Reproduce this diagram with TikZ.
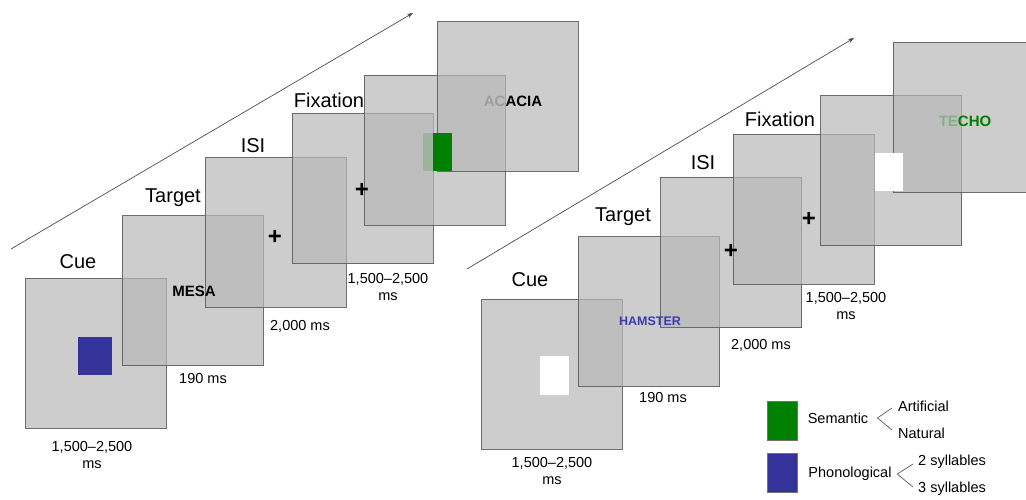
\documentclass[tikz,border=0pt]{standalone}
\usepackage{fontspec}
\setmainfont{Liberation Sans}
\usetikzlibrary{arrows.meta}
\definecolor{cblue}{RGB}{51,51,153}
\definecolor{cgreen}{RGB}{0,128,0}
\definecolor{edge}{RGB}{95,95,95}
\definecolor{wordblue}{RGB}{60,60,170}
\definecolor{scr}{RGB}{184,184,184}
\definecolor{fadegreen}{RGB}{135,175,135}
\begin{document}
\begin{tikzpicture}[x=1pt,y=-1pt,
  screen/.style={rectangle, draw=edge, line width=0.8pt, fill=scr, fill opacity=0.7,
    draw opacity=0.9, minimum width=141pt, minimum height=150pt, inner sep=0pt, outer sep=0pt},
  phase/.style={font=\fontsize{20}{24}\selectfont, inner sep=0pt},
  timing/.style={font=\fontsize{14.5}{17.6}\selectfont, align=center, inner sep=0pt},
  word/.style={font=\fontsize{15}{18}\selectfont\bfseries, inner sep=0pt},
  plus/.style={font=\fontsize{24}{24}\selectfont\bfseries, inner sep=0pt},
  patch/.style={rectangle, inner sep=0pt, outer sep=0pt},
  legtext/.style={font=\fontsize{14.5}{17}\selectfont, inner sep=0pt},
  legbox/.style={rectangle, draw=black!55, line width=0.5pt, minimum width=30pt, minimum height=39pt, inner sep=0pt},
  timeline/.style={draw=black!70, line width=0.7pt, -{Stealth[length=6pt,width=4.5pt]}},
  brace/.style={draw=black!65, line width=0.7pt}]
\useasboundingbox (0,0) rectangle (1026,500);
\clip (0,0) rectangle (1026,500);

% ---------- left sequence ----------
\coordinate (la0) at (11,249);
\coordinate (la1) at (413,13);
\draw[timeline] (la0) -- (la1);

\node[screen] (L1) at (95.5,353) {};
\node[screen] (L2) at (192.5,290.5) {};
\node[screen] (L3) at (275.5,232) {};
\node[screen] (L4) at (362.5,188.5) {};
\node[screen] (L5) at (434.5,150) {};
\node[screen] (L6) at (507.5,96.5) {};

\node[patch, fill=cblue, minimum width=34pt, minimum height=38pt] (lcue) at (95,356) {};
\node[word] (lmesa) at (194,291) {MESA};
\node[plus] (lp1) at (275,237) {+};
\node[plus] (lp2) at (362,190) {+};
\node[patch, fill=cgreen, fill opacity=0.18, minimum width=10pt, minimum height=38pt] (lgfaint) at (428,152) {};
\node[patch, fill=cgreen, minimum width=19pt, minimum height=38pt] (lgreen) at (442.5,152) {};
\node[word] (lacacia) at (513,101) {{\color{black!38}AC}ACIA};

\node[phase] (lcuel) at (78,262) {Cue};
\node[phase] (ltarl) at (173,198) {Target};
\node[phase] (lisil) at (253,146) {ISI};
\node[phase] (lfixl) at (329,100) {Fixation};

\node[timing] (lt1) at (92,455) {1,500--2,500\\ms};
\node[timing] (lt2) at (203,379) {190 ms};
\node[timing] (lt3) at (300,326) {2,000 ms};
\node[timing] (lt4) at (388,287) {1,500--2,500\\ms};

% ---------- right sequence ----------
\coordinate (ra0) at (467,269);
\coordinate (ra1) at (854,38);
\draw[timeline] (ra0) -- (ra1);

\node[screen] (R1) at (551.5,374) {};
\node[screen] (R2) at (648.5,311.5) {};
\node[screen] (R3) at (731,252.5) {};
\node[screen] (R4) at (803.5,209) {};
\node[screen] (R5) at (891,170.5) {};
\node[screen] (R6) at (963.5,117.5) {};

\node[patch, fill=white, minimum width=29pt, minimum height=39pt] (rcue) at (554.5,375.5) {};
\node[word, font=\fontsize{12.5}{15}\selectfont\bfseries, text=wordblue] (rham) at (650,321) {HAMSTER};
\node[plus] (rp1) at (731,251) {+};
\node[plus] (rp2) at (809,219) {+};
\node[patch, fill=white, minimum width=28pt, minimum height=38pt] (rwhite) at (889,172) {};
\node[word, text=cgreen] (rtecho) at (965,121) {{\color{fadegreen}TE}CHO};

\node[phase] (rcuel) at (530,280) {Cue};
\node[phase] (rtarl) at (623,217) {Target};
\node[phase] (risil) at (703,163) {ISI};
\node[phase] (rfixl) at (780,119) {Fixation};

\node[timing] (rt1) at (552,471) {1,500--2,500\\ms};
\node[timing] (rt2) at (663,398) {190 ms};
\node[timing] (rt3) at (761,345) {2,000 ms};
\node[timing] (rt4) at (846,306) {1,500--2,500\\ms};

% ---------- legend ----------
\node[legbox, fill=cgreen] (gsq) at (782,420.5) {};
\node[legbox, fill=cblue] (bsq) at (782,472.5) {};
\node[legtext] (sem) at (838,418) {Semantic};
\node[legtext, anchor=west] (art) at (898,406) {Artificial};
\node[legtext, anchor=west] (nat) at (898,433) {Natural};
\node[legtext] (pho) at (850,474) {Phonological};
\node[legtext, anchor=west] (syl2) at (918,462) {2 syllables};
\node[legtext, anchor=west] (syl3) at (918,489) {3 syllables};
\coordinate (semv) at ([xshift=9pt]sem.east);
\coordinate (phov) at ([xshift=5.5pt]pho.east);
\draw[brace] ([xshift=-6pt,yshift=-2pt]art.west) -- (semv) -- ([xshift=-6pt,yshift=3pt]nat.west);
\draw[brace] ([xshift=-5pt,yshift=-2pt]syl2.west) -- (phov) -- ([xshift=-5pt,yshift=2pt]syl3.west);
\end{tikzpicture}
\end{document}
